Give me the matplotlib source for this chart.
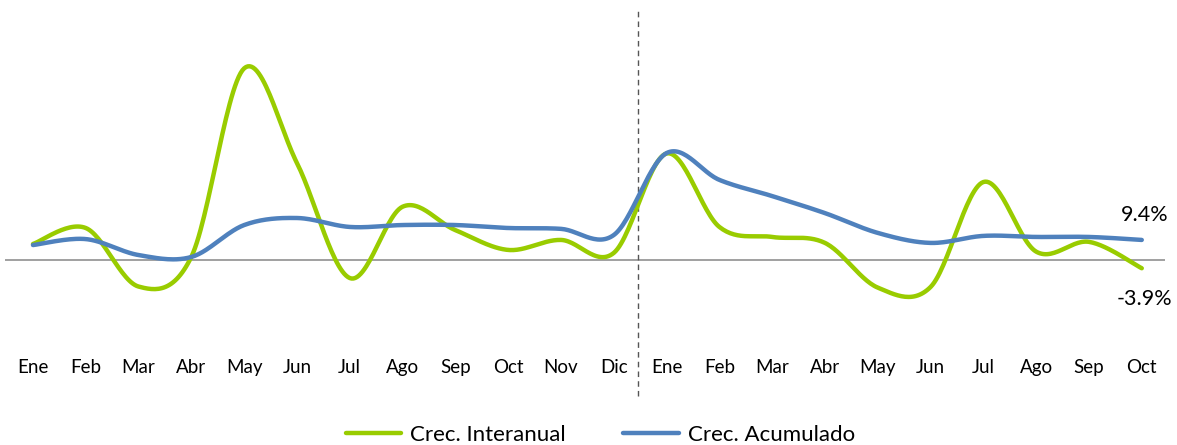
import numpy as np
import matplotlib
matplotlib.use("Agg")
import matplotlib.pyplot as plt

# data (percent)
months = ["Ene", "Feb", "Mar", "Abr", "May", "Jun", "Jul", "Ago", "Sep", "Oct", "Nov", "Dic",
          "Ene", "Feb", "Mar", "Abr", "May", "Jun", "Jul", "Ago", "Sep", "Oct"]
interanual = [7.5, 15.0, -12.5, 1.5, 90.0, 45.5, -8.5, 25.0, 14.0, 4.7, 9.4, 3.3,
              50.0, 15.5, 10.8, 8.0, -13.0, -12.7, 36.6, 3.9, 8.5, -3.9]
acumulado = [7.0, 9.8, 2.3, 1.4, 16.4, 19.7, 15.5, 16.4, 16.4, 15.0, 14.6, 11.7,
             50.2, 37.6, 30.0, 22.0, 12.7, 8.0, 11.3, 10.8, 10.8, 9.4]

GREEN = "#99CC00"
BLUE = "#4F81BD"


def smooth(x, y, n=30):
    """Catmull-Rom style bezier through every point (like Excel smoothed lines)."""
    x = np.asarray(x, float)
    y = np.asarray(y, float)
    px = np.concatenate([[x[0]], x, [x[-1]]])
    py = np.concatenate([[y[0]], y, [y[-1]]])
    xs, ys = [], []
    t = np.linspace(0, 1, n)
    for i in range(1, len(px) - 2):
        p0 = np.array([px[i - 1], py[i - 1]])
        p1 = np.array([px[i], py[i]])
        p2 = np.array([px[i + 1], py[i + 1]])
        p3 = np.array([px[i + 2], py[i + 2]])
        c1 = p1 + (p2 - p0) / 6
        c2 = p2 - (p3 - p1) / 6
        b = ((1 - t) ** 3)[:, None] * p1 + (3 * (1 - t) ** 2 * t)[:, None] * c1 \
            + (3 * (1 - t) * t ** 2)[:, None] * c2 + (t ** 3)[:, None] * p2
        xs.extend(b[:, 0])
        ys.extend(b[:, 1])
    return np.array(xs), np.array(ys)


plt.rcParams["font.family"] = ["Lato", "DejaVu Sans"]

W, H = 1177, 445
fig = plt.figure(figsize=(W / 100, H / 100), dpi=100)
ax = fig.add_axes([5 / W, 1 - 340 / H, 1160 / W, 330 / H])

x = np.arange(len(months))
gx, gy = smooth(x, interanual)
bx, by = smooth(x, acumulado)

ax.axhline(0, color="#999999", lw=1.3, zorder=1)
ax.plot(gx, gy, color=GREEN, lw=3.2, solid_capstyle="round", label="Crec. Interanual", zorder=3)
ax.plot(bx, by, color=BLUE, lw=3.2, solid_capstyle="round", label="Crec. Acumulado", zorder=4)

ax.set_xlim(-0.53, 21.44)
ax.set_ylim(-37.6, 117.4)

# dashed divider between the two years, reaching below the month labels
ax.axvline(11.45, ymin=-0.17, ymax=1.0, color="#555555", lw=1, ls=(0, (4, 3)), clip_on=False)

ax.set_xticks(x)
ax.set_xticklabels(months, fontsize=13.5)
ax.tick_params(axis="x", length=0, pad=14)
ax.set_yticks([])
for s in ax.spines.values():
    s.set_visible(False)

ax.text(21.05, acumulado[-1] + 11.5, "9.4%", fontsize=15.5, ha="center", va="center")
ax.text(21.05, interanual[-1] - 14.5, "-3.9%", fontsize=15.5, ha="center", va="center")

fig.legend(loc="lower center", bbox_to_anchor=(0.51, -0.045), ncol=2, frameon=False,
           fontsize=16, handlelength=2.5, columnspacing=2.6, handletextpad=0.4)

fig.savefig("out.png", dpi=100)
